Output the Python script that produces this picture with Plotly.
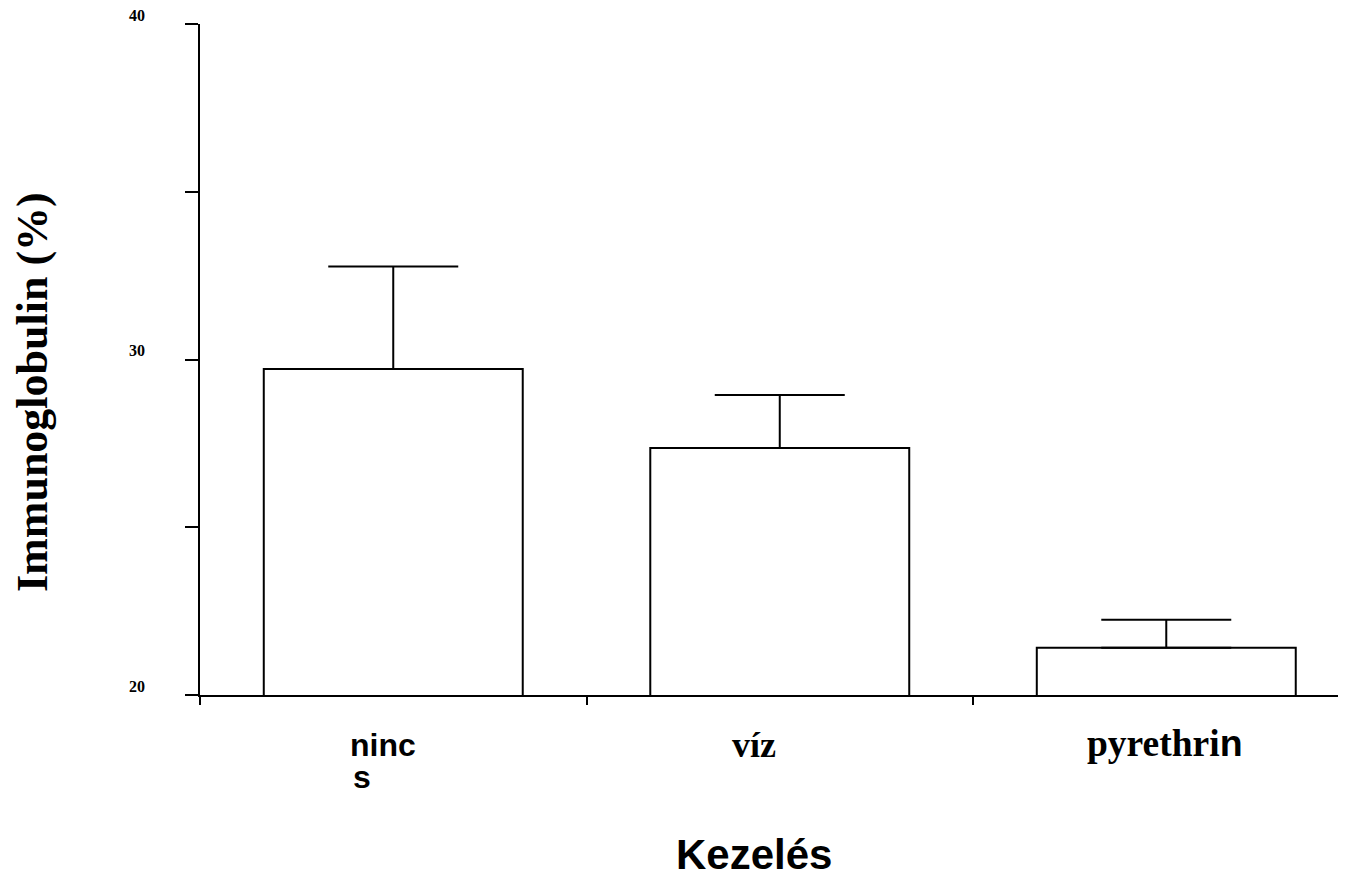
import plotly.graph_objects as go

categories = ["nincs", "víz", "pyrethrin"]
means = [29.72, 27.36, 21.41]
errors_up = [3.05, 1.58, 0.83]
y_ticks = [20, 30, 40]

SERIF = "Liberation Serif, Times New Roman, serif"
SANS = "Liberation Sans, Arial, sans-serif"

x_idx = list(range(len(categories)))

fig = go.Figure()
fig.add_trace(go.Bar(
    x=x_idx, y=means, width=0.67,
    marker=dict(color="white", line=dict(color="black", width=2)),
    error_y=dict(type="data", symmetric=False, array=errors_up,
                 arrayminus=[0] * len(means), color="black",
                 thickness=2, width=65),
    showlegend=False, hoverinfo="skip",
))

fig.update_layout(
    width=1338, height=865,
    margin=dict(l=192, r=0, t=16, b=178, pad=0),
    plot_bgcolor="white", paper_bgcolor="white",
    xaxis=dict(range=[-0.5, 2.465], showline=True, linecolor="black", linewidth=2,
               tickmode="array", tickvals=[-0.5, 0.5, 1.5], ticktext=["", "", ""],
               ticks="outside", ticklen=8, tickwidth=2, tickcolor="black",
               showgrid=False, zeroline=False, showticklabels=False),
    yaxis=dict(range=[20, 40], showline=True, linecolor="black", linewidth=2,
               tickmode="array", tickvals=y_ticks,
               ticks="outside", ticklen=13, tickwidth=2, tickcolor="black",
               minor=dict(dtick=5, tick0=20, ticks="outside", ticklen=13, tickwidth=2,
                          tickcolor="black", showgrid=False),
               showticklabels=False,
               showgrid=False, zeroline=False),
)

# y tick labels (raised above their ticks, as in the reference)
for v in y_ticks:
    fig.add_annotation(x=0, xref="paper", y=v, yref="y", text=f"<b>{v}</b>",
                       xanchor="right", yanchor="middle", xshift=-53, yshift=9,
                       showarrow=False,
                       font=dict(family=SERIF, size=16, color="black"))

# category labels
fig.add_annotation(x=x_idx[0], xref="x", y=-0.045, yref="paper", text="<b>ninc</b>",
                   xanchor="center", yanchor="top", xshift=-10, showarrow=False,
                   font=dict(family=SANS, size=32, color="black"))
fig.add_annotation(x=x_idx[0], xref="x", y=-0.092, yref="paper", text="<b>s</b>",
                   xanchor="left", yanchor="top", xshift=-42, showarrow=False,
                   font=dict(family=SANS, size=32, color="black"))
fig.add_annotation(x=x_idx[1], xref="x", y=-0.042, yref="paper", text="<b>víz</b>",
                   xanchor="center", yanchor="top", xshift=-26, showarrow=False,
                   font=dict(family=SERIF, size=36, color="black"))
fig.add_annotation(x=x_idx[2], xref="x", y=-0.037, yref="paper",
                   text="<b>pyrethri</b><span style='font-family:Liberation Sans, Arial, sans-serif'><b>n</b></span>",
                   xanchor="center", yanchor="top", xshift=-1, showarrow=False,
                   font=dict(family=SERIF, size=37.5, color="black"))

# axis titles
fig.add_annotation(x=0.4834, xref="paper", y=-0.199, yref="paper", text="<b>Kezelés</b>",
                   xanchor="center", yanchor="top", showarrow=False,
                   font=dict(family=SANS, size=42, color="black"))
fig.add_annotation(x=-0.1457, xref="paper", y=0.4516, yref="paper",
                   text="<b>Immunoglobulin (%)</b>", textangle=-90,
                   xanchor="center", yanchor="middle", showarrow=False,
                   font=dict(family=SERIF, size=44, color="black"))

fig.write_html("out.html")
